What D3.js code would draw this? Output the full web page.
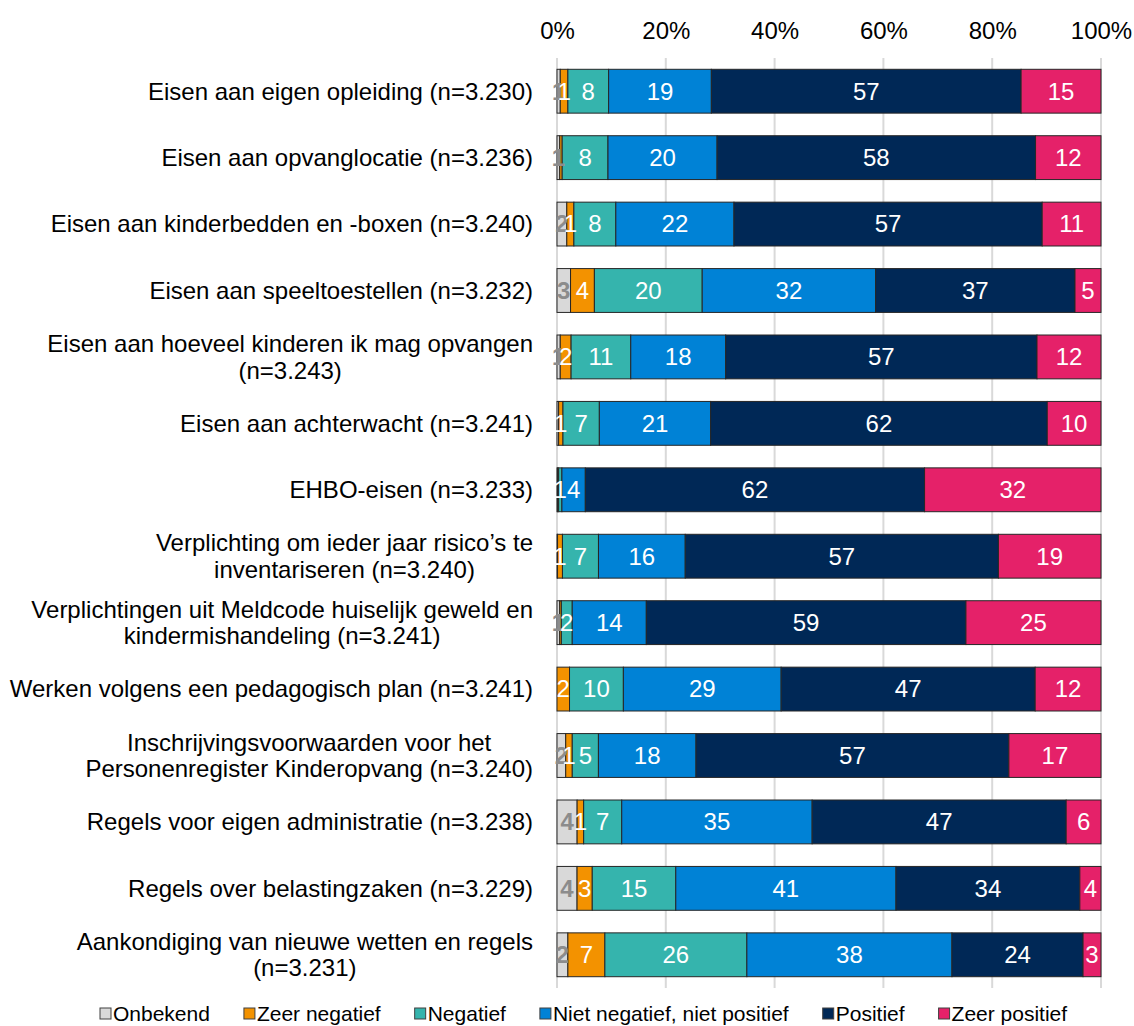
<!DOCTYPE html>
<html><head><meta charset="utf-8">
<script src="https://cdn.jsdelivr.net/npm/d3@7"></script>
<style>body{margin:0;background:#fff}svg{display:block;font-family:"Liberation Sans",Arial,sans-serif}</style>
</head><body><svg id="c" width="1134" height="1026"></svg>
<script>
const categories = [
  "Eisen aan eigen opleiding (n=3.230)",
  "Eisen aan opvanglocatie (n=3.236)",
  "Eisen aan kinderbedden en -boxen (n=3.240)",
  "Eisen aan speeltoestellen (n=3.232)",
  "Eisen aan hoeveel kinderen ik mag opvangen\n(n=3.243)",
  "Eisen aan achterwacht (n=3.241)",
  "EHBO-eisen (n=3.233)",
  "Verplichting om ieder jaar risico\u2019s te\ninventariseren (n=3.240)",
  "Verplichtingen uit Meldcode huiselijk geweld en\nkindermishandeling (n=3.241)",
  "Werken volgens een pedagogisch plan (n=3.241)",
  "Inschrijvingsvoorwaarden voor het\nPersonenregister Kinderopvang (n=3.240)",
  "Regels voor eigen administratie (n=3.238)",
  "Regels over belastingzaken (n=3.229)",
  "Aankondiging van nieuwe wetten en regels\n(n=3.231)"
];
const seriesNames = ["Onbekend","Zeer negatief","Negatief","Niet negatief, niet positief","Positief","Zeer positief"];
const onbekend     = [0.6, 0.5, 1.8, 2.5, 0.6, 0.3, 0.1, 0.1, 0.5, 0.0, 1.6, 3.7, 3.7, 2.0];
const zeerNegatief = [1.4, 0.45,1.3, 4.4, 2.0, 0.8, 0.2, 0.9, 0.3, 2.3, 1.2, 1.2, 2.8, 6.8];
const negatief     = [7.5, 8.4, 7.7, 19.9,11.0, 6.7, 0.6, 6.6, 2.0, 9.9, 4.8, 7.0, 15.4,26.1];
const nietNegPos   = [18.9,20.0,21.7,32.0,17.5,20.5, 4.3, 15.9,13.6,29.0,17.9,35.0,40.6,37.7];
const positief     = [57.0,58.4,56.6,36.8,57.4,62.0,62.3,57.4,58.7,46.7,57.4,46.7,33.9,24.1];
const zeerPositief = [14.7,12.0,10.8, 4.8,11.8, 9.9,32.4,18.8,24.8,12.1,16.9, 6.4, 3.9, 3.3];
const tickValues = [0, 0.2, 0.4, 0.6, 0.8, 1.0];

const colors = ["#d9d9d9","#f39200","#35b4ad","#0082d6","#002856","#e52169"];
const labelColors = ["#8c8c8c","#fff","#fff","#fff","#fff","#fff"];
const seriesArrays = [onbekend, zeerNegatief, negatief, nietNegPos, positief, zeerPositief];

const FONT = '"Liberation Sans",Arial,sans-serif';
const rows = categories.map((c, i) => {
  const o = {cat: c};
  seriesNames.forEach((s, j) => o[s] = seriesArrays[j][i]);
  return o;
});

const svg = d3.select("#c");
const x = d3.scaleLinear().domain([0, 1]).range([557, 1101]);
const y = d3.scaleBand().domain(categories).range([58, 988]).paddingInner(0.34).paddingOuter(0.17);

// gridlines
svg.append("g").selectAll("line").data(tickValues).join("line")
  .attr("x1", d => x(d)).attr("x2", d => x(d))
  .attr("y1", 58).attr("y2", 988)
  .attr("stroke", "#d9d9d9").attr("stroke-width", 2);

// top axis
const ax = svg.append("g").attr("transform", "translate(0,39)")
  .call(d3.axisTop(x).tickValues(tickValues).tickFormat(d3.format(".0%")).tickSize(0).tickPadding(0));
ax.select(".domain").remove();
ax.selectAll("text").attr("font-size", 24).attr("fill", "#000")
  .attr("font-family", FONT).attr("dy", 0);

const stack = d3.stack().keys(seriesNames).offset(d3.stackOffsetExpand);
const stacked = stack(rows);

const gBars = svg.append("g");
stacked.forEach((layer, j) => {
  const g = gBars.append("g");
  g.selectAll("rect").data(layer).join("rect")
    .attr("x", d => x(d[0]))
    .attr("width", d => Math.max(0, x(d[1]) - x(d[0])))
    .attr("y", d => y(d.data.cat))
    .attr("height", y.bandwidth())
    .attr("fill", colors[j])
    .attr("stroke", "#262626").attr("stroke-width", 1);
});
stacked.forEach((layer, j) => {
  const g = gBars.append("g");
  g.selectAll("text").data(layer.filter(d => Math.round(d.data[seriesNames[j]]) >= 1)).join("text")
    .attr("x", d => (x(d[0]) + x(d[1])) / 2)
    .attr("y", d => y(d.data.cat) + y.bandwidth() / 2)
    .attr("dy", "0.35em")
    .attr("text-anchor", "middle")
    .attr("font-size", 24)
    .attr("font-weight", j === 0 ? "bold" : "normal")
    .attr("fill", labelColors[j])
    .text(d => Math.round(d.data[seriesNames[j]]));
});

// category labels
const gLab = svg.append("g");
categories.forEach(c => {
  const lines = c.split("\n");
  const cy = y(c) + y.bandwidth() / 2;
  const t = gLab.append("text").attr("font-size", 24).attr("fill", "#000");
  lines.forEach((ln, k) => {
    t.append("tspan").attr("x", 0)
      .attr("y", cy + (k - (lines.length - 1) / 2) * 26.5)
      .attr("dy", "0.35em").text(ln);
  });
  if (lines.length === 1) {
    t.attr("text-anchor", "end").selectAll("tspan").attr("x", 533);
  } else {
    let maxW = 0;
    t.selectAll("tspan").each(function(){ maxW = Math.max(maxW, this.getComputedTextLength()); });
    t.attr("text-anchor", "middle").selectAll("tspan").attr("x", 533 - maxW / 2);
  }
});

// legend
const leg = svg.append("g");
let lx = 100;
seriesNames.forEach((s, j) => {
  leg.append("rect").attr("x", lx).attr("y", 1008).attr("width", 11).attr("height", 11)
    .attr("fill", colors[j]).attr("stroke", "#404040").attr("stroke-width", 1);
  const t = leg.append("text").attr("x", lx + 13).attr("y", 1013.5).attr("dy", "0.35em")
    .attr("font-size", 21).attr("fill", "#000").text(s);
  lx += 13 + t.node().getComputedTextLength() + 34;
});
</script></body></html>
